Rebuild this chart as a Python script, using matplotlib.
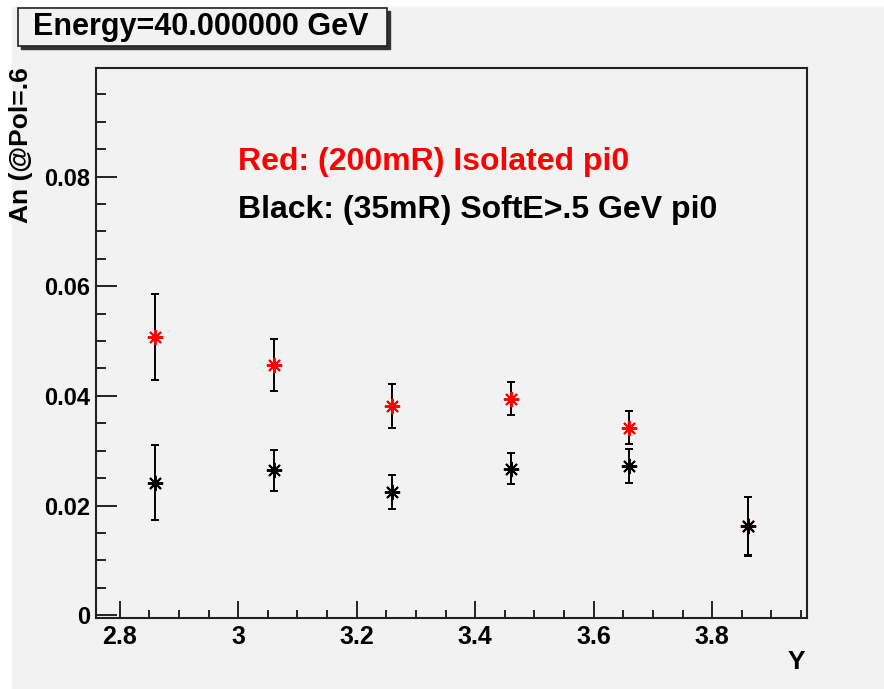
import numpy as np
import matplotlib
matplotlib.use("Agg")
from matplotlib import pyplot as plt
from matplotlib.patches import Rectangle
from matplotlib.ticker import MultipleLocator

# rapidity bins
y_vals = [2.86, 3.06, 3.26, 3.46, 3.66, 3.86]

# red: (200mR) isolated pi0
an_red = [0.0507, 0.0456, 0.0382, 0.0395, 0.0342, 0.0162]
err_red = [0.0078, 0.0047, 0.0040, 0.0030, 0.0030, 0.0053]

# black: (35mR) SoftE>.5 GeV pi0
an_blk = [0.0242, 0.0264, 0.0225, 0.0267, 0.0273, 0.0162]
err_blk = [0.0069, 0.0037, 0.0031, 0.0028, 0.0031, 0.0054]

W, H = 884, 689
plt.rcParams['font.family'] = ['Liberation Sans', 'DejaVu Sans']
plt.rcParams['font.weight'] = 'bold'

fig = plt.figure(figsize=(W / 100, H / 100), dpi=100)
fig.patch.set_facecolor('white')
bg = '#f2f2f2'
fig.patches.append(Rectangle((12 / W, 1 - 689 / H), 1 - 12 / W, (689 - 7) / H,
                             transform=fig.transFigure, color=bg, zorder=-10))

ax = fig.add_axes([96 / W, (H - 618) / H, (807 - 96) / W, (618 - 68) / H])
ax.set_facecolor(bg)

ax.errorbar(y_vals, an_red, yerr=err_red, fmt='none', ecolor='black',
            elinewidth=1.4, capsize=2.8, capthick=1.4, zorder=3)
ax.plot(y_vals, an_red, ls='none', marker=(8, 2, 0), ms=11, mew=1.4,
        color='red', zorder=4)
ax.errorbar(y_vals, an_blk, yerr=err_blk, fmt='none', ecolor='black',
            elinewidth=1.4, capsize=2.8, capthick=1.4, zorder=5)
ax.plot(y_vals, an_blk, ls='none', marker=(8, 2, 0), ms=11, mew=1.4,
        color='black', zorder=6)

ax.set_xlim(2.76, 3.96)
ax.set_ylim(-0.0005, 0.0998)

ax.xaxis.set_major_locator(MultipleLocator(0.2))
ax.xaxis.set_minor_locator(MultipleLocator(0.05))
ax.yaxis.set_major_locator(MultipleLocator(0.02))
ax.yaxis.set_minor_locator(MultipleLocator(0.005))
ax.xaxis.set_major_formatter(lambda v, p: ('%g' % round(v, 2)))
ax.yaxis.set_major_formatter(lambda v, p: ('%g' % round(v, 3)) if abs(v) > 1e-9 else '0')

ax.tick_params(axis='both', which='both', direction='in', top=False, right=False,
               width=1.2, color='black')
ax.tick_params(axis='y', which='major', length=15, pad=4, labelsize=17)
ax.tick_params(axis='y', which='minor', length=7.5)
ax.tick_params(axis='x', which='major', length=12, pad=5, labelsize=18)
ax.tick_params(axis='x', which='minor', length=6)
for lab in ax.get_xticklabels() + ax.get_yticklabels():
    lab.set_fontweight('bold')

for s in ax.spines.values():
    s.set_linewidth(1.5)
    s.set_color('#222222')

ax.text(238 / W, 1 - 162 / H, 'Red: (200mR) Isolated pi0', transform=fig.transFigure,
        color='red', fontsize=23, fontweight='bold', va='center', ha='left')
ax.text(238 / W, 1 - 210 / H, 'Black: (35mR) SoftE>.5 GeV pi0', transform=fig.transFigure,
        color='black', fontsize=23, fontweight='bold', va='center', ha='left')

fig.text(21 / W, 1 - 67 / H, 'An (@Pol=.6', rotation=90, ha='center', va='top',
         fontsize=19, fontweight='bold')
fig.text(805 / W, 1 - 662 / H, 'Y', ha='right', va='center', fontsize=19, fontweight='bold')

# title box with shadow
fig.patches.append(Rectangle((21 / W, 1 - 49 / H), 369 / W, 38 / H,
                             transform=fig.transFigure, color='#333333', zorder=1))
fig.patches.append(Rectangle((18 / W, 1 - 46 / H), 369 / W, 38 / H,
                             transform=fig.transFigure, facecolor=bg,
                             edgecolor='#222222', lw=1.2, zorder=2))
fig.text(201 / W, 1 - 27 / H, 'Energy=40.000000 GeV', ha='center', va='center',
         fontsize=22, fontweight='bold', zorder=3)

fig.savefig('out.png', dpi=100, facecolor=fig.get_facecolor())
